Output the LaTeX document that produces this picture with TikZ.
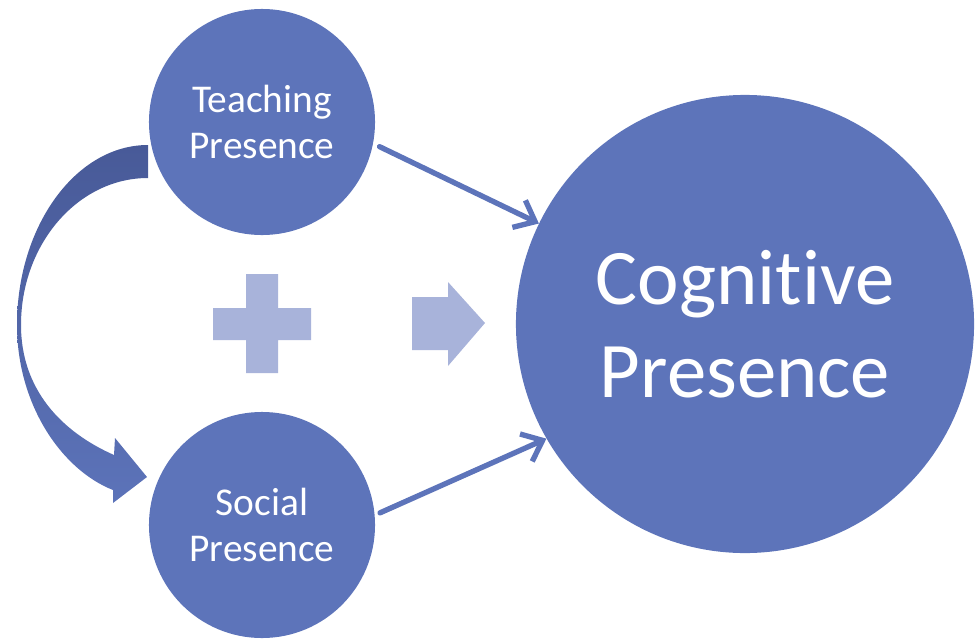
\documentclass[tikz,border=0pt]{standalone}
\usepackage{fontspec}
\setsansfont{Carlito}[RawFeature={-liga;-clig;-calt}]
\usetikzlibrary{arrows.meta}
\definecolor{discblue}{RGB}{93,116,186}
\definecolor{bendtop}{RGB}{72,90,152}
\definecolor{bendbot}{RGB}{92,115,185}
\definecolor{signblue}{RGB}{168,179,218}

\begin{document}
\begin{tikzpicture}[
    x=0.025cm, y=-0.025cm,
    presence/.style={circle, fill=discblue, text=white, align=center, inner sep=0pt,
      minimum size=5.65cm, font=\sffamily\fontsize{28}{33}\selectfont},
    link/.style={draw=discblue, line width=3.8pt, line cap=round,
      -{Straight Barb[length=4.5mm, width=7.5mm]}}
  ]
  \useasboundingbox (0,0) rectangle (980,638);
  \clip (0,0) rectangle (980,638);
  % bent arrow from teaching to social
  \shade[top color=bendtop, bottom color=bendbot]
    (148,145) .. controls (76,145) and (17,226) .. (17,325)
    .. controls (17,405) and (62,470) .. (113,490)
    -- (113,503) -- (147,477) -- (115,438) -- (114,455)
    .. controls (62,432) and (21,390) .. (21,325)
    .. controls (21,244) and (78,178) .. (148,178) -- cycle;
  \node[presence] (teach) at (262,122) {Teaching\\Presence};
  \node[presence] (social) at (262,525) {Social\\Presence};
  \node[presence, minimum size=11.45cm, font=\sffamily\fontsize{56}{66}\selectfont] (cog) at (745,324) {Cognitive\\Presence};
  % plus and block arrow
  \fill[signblue] (246,274) -- (278,274) -- (278,308) -- (311,308) -- (311,340) -- (278,340)
    -- (278,373) -- (246,373) -- (246,340) -- (213,340) -- (213,308) -- (246,308) -- cycle;
  \fill[signblue] (412,297) -- (448,297) -- (448,282) -- (485,323) -- (448,366) -- (448,350) -- (412,350) -- cycle;
  \draw[link, shorten <=5pt] (teach.-11) -- (cog.154);
  \draw[link, shorten <=4pt] (social.5) -- (cog.210);
\end{tikzpicture}
\end{document}
